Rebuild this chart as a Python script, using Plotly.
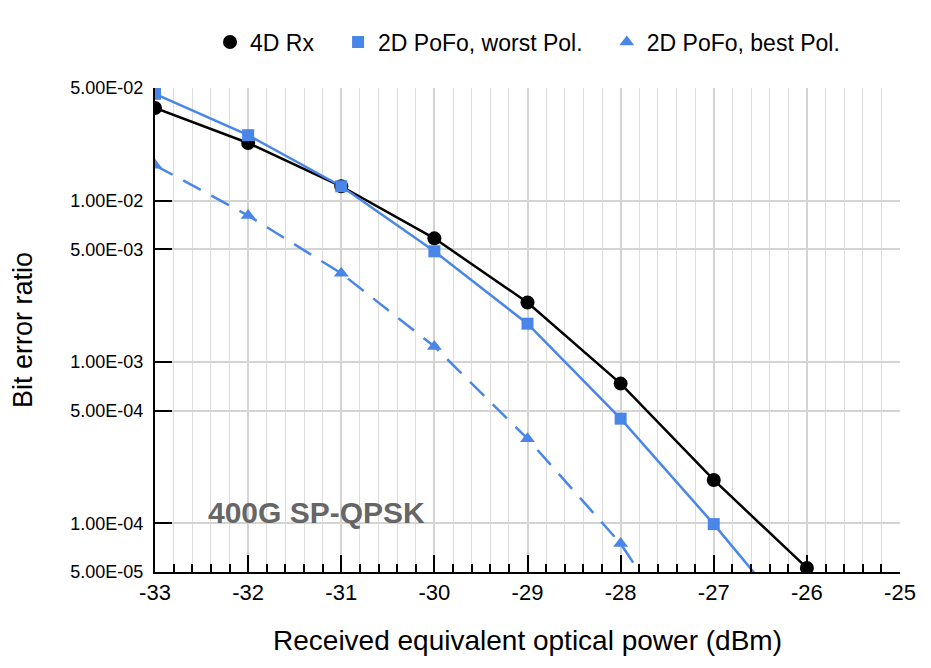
import numpy as np
import plotly.graph_objects as go

# received equivalent optical power (dBm)
power = [-33, -32, -31, -30, -29, -28, -27, -26]

# bit error ratio per receiver variant
ber_4d_rx = [3.76e-2, 2.28e-2, 1.23e-2, 5.85e-3, 2.34e-3, 7.36e-4, 1.86e-4, 5.3e-5]
ber_worst = [4.6e-2, 2.55e-2, 1.23e-2, 4.86e-3, 1.73e-3, 4.46e-4, 9.9e-5, 2.0e-5]
ber_best = [1.66e-2, 8.1e-3, 3.55e-3, 1.25e-3, 3.35e-4, 7.5e-5, 1.0e-5]

y_ticks = [5e-5, 1e-4, 5e-4, 1e-3, 5e-3, 1e-2, 5e-2]
y_labels = ["5.00E-05", "1.00E-04", "5.00E-04", "1.00E-03", "5.00E-03", "1.00E-02", "5.00E-02"]
x_ticks = [-33, -32, -31, -30, -29, -28, -27, -26, -25]
x_labels = [str(v) for v in x_ticks]  # plain hyphen, not unicode minus

blue = "#4a86e8"
font_name = "Liberation Sans, Arial, sans-serif"
pad = "\u00a0" * 3  # extra room between legend entries

series = [
    ("4D Rx", power, ber_4d_rx, "black", "solid", "circle", 14),
    ("2D PoFo, worst Pol.", power, ber_worst, blue, "solid", "square", 12),
    ("2D PoFo, best Pol.", power[:len(ber_best)], ber_best, blue, "20px,12px", "triangle-up", 13),
]

fig = go.Figure()
# lines first (not in legend), markers on top carry the legend entries
for name, xs, ys, col, dash, sym, size in series:
    fig.add_trace(go.Scatter(x=xs, y=ys, mode="lines", showlegend=False, hoverinfo="skip",
                             line=dict(color=col, width=2.5, dash=dash)))
for i, (name, xs, ys, col, dash, sym, size) in enumerate(series):
    label = name + (pad if i < len(series) - 1 else "")
    fig.add_trace(go.Scatter(x=xs, y=ys, name=label, mode="markers",
                             marker=dict(symbol=sym, size=size, color=col)))

# label inside the plot
fig.add_annotation(x=-32.45, y=np.log10(1.17e-4), xref="x", yref="y", xanchor="left",
                   text="<b>400G SP-QPSK</b>", showarrow=False,
                   font=dict(size=30, color="#666666", family=font_name))

fig.update_layout(
    width=931, height=668,
    margin=dict(l=147, r=39, t=80, b=104),
    paper_bgcolor="white", plot_bgcolor="white",
    font=dict(family=font_name, color="black"),
    showlegend=True,
    legend=dict(orientation="h", x=0.5, xanchor="center", y=1.095, yanchor="middle",
                font=dict(size=23), itemsizing="trace", itemwidth=30,
                bgcolor="rgba(0,0,0,0)"),
)
fig.update_xaxes(range=[-33, -25], tickvals=x_ticks, ticktext=x_labels, automargin=False,
                 ticks="inside", ticklen=17, tickwidth=1.5,
                 tickcolor="black", tickfont=dict(size=22),
                 showline=True, linecolor="black", linewidth=2,
                 showgrid=True, gridcolor="#d4d4d4", gridwidth=1.5, zeroline=False,
                 minor=dict(dtick=0.2, tick0=-33, showgrid=True, gridcolor="#dcdcdc", gridwidth=1,
                            ticks="inside", ticklen=8, tickcolor="black", tickwidth=1.5),
                 title=dict(text="Received equivalent optical power (dBm)", font=dict(size=28), standoff=26))
fig.update_yaxes(type="log", range=[np.log10(5e-5), np.log10(5e-2)], automargin=False,
                 tickvals=y_ticks, ticktext=y_labels, ticks="inside", ticklen=17, tickwidth=1.5,
                 tickcolor="black", tickfont=dict(size=18), ticklabelstandoff=6,
                 showline=True, linecolor="black", linewidth=2,
                 showgrid=True, gridcolor="#d4d4d4", gridwidth=1.5, zeroline=False,
                 title=dict(text="Bit error ratio", font=dict(size=27), standoff=36))

fig.write_html("out.html")
